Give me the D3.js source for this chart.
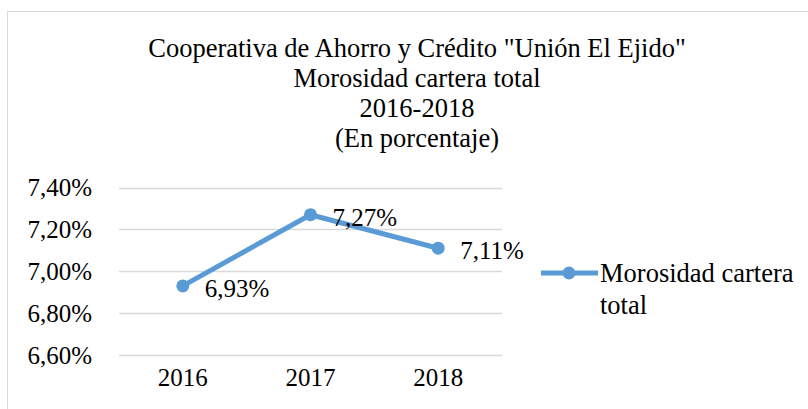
<!DOCTYPE html>
<html><head><meta charset="utf-8">
<script src="https://cdn.jsdelivr.net/npm/d3@7"></script>
<style>body{margin:0;background:#fff}svg{display:block}text{font-family:"Liberation Serif","Times New Roman",serif;fill:#000}</style>
</head><body>
<script>
const categories = ["2016","2017","2018"];
const values = [6.93, 7.27, 7.11];
const valueLabels = ["6,93%","7,27%","7,11%"];
const yTicks = [6.6, 6.8, 7.0, 7.2, 7.4];
const yTickLabels = ["6,60%","6,80%","7,00%","7,20%","7,40%"];
const titleLines = ['Cooperativa de Ahorro y Crédito "Unión El Ejido"', "Morosidad cartera total", "2016-2018", "(En porcentaje)"];
const seriesName = ["Morosidad cartera", "total"];

const W = 808, H = 409, color = "#5B9BD5";
const svg = d3.select("body").append("svg").attr("width", W).attr("height", H);
svg.append("rect").attr("x", 7.5).attr("y", 11.5).attr("width", W + 10).attr("height", H + 10)
  .attr("fill", "#fff").attr("stroke", "#d9d9d9").attr("stroke-width", 1);

svg.append("g").selectAll("text").data(titleLines).join("text")
  .attr("x", 417).attr("y", (d, i) => 57 + i * 30).attr("text-anchor", "middle")
  .attr("font-size", 26.5).text(d => d);

const x = d3.scaleBand().domain(categories).range([119, 502]);
const y = d3.scaleLinear().domain([6.6, 7.4]).range([355, 187.5]);

const grid = svg.append("g");
grid.selectAll("line").data(yTicks).join("line")
  .attr("x1", 119).attr("x2", 502).attr("y1", d => Math.round(y(d)) + 0.5).attr("y2", d => Math.round(y(d)) + 0.5)
  .attr("stroke", "#d9d9d9").attr("stroke-width", 1.3);

const yAxis = d3.axisLeft(y).tickValues(yTicks).tickFormat((d, i) => yTickLabels[i]).tickSize(0).tickPadding(0);
const ya = svg.append("g").attr("transform", "translate(92,0)").call(yAxis);
ya.select(".domain").remove();
ya.selectAll("text").attr("font-size", 25).attr("font-family", "Liberation Serif").attr("fill", "#000").attr("dy", "0.33em");

const xAxis = d3.axisBottom(x).tickSize(0).tickPadding(0);
const xa = svg.append("g").attr("transform", "translate(0,368)").call(xAxis);
xa.select(".domain").remove();
xa.selectAll("text").attr("font-size", 25).attr("font-family", "Liberation Serif").attr("fill", "#000").attr("dy", "0.71em");

const pts = categories.map((c, i) => [x(c) + x.bandwidth() / 2, y(values[i])]);
svg.append("path").attr("d", d3.line()(pts)).attr("fill", "none")
  .attr("stroke", color).attr("stroke-width", 5).attr("stroke-linejoin", "round");
svg.append("g").selectAll("circle").data(pts).join("circle")
  .attr("cx", d => d[0]).attr("cy", d => d[1]).attr("r", 6.5).attr("fill", color);

svg.append("g").selectAll("text").data(pts).join("text")
  .attr("x", d => d[0] + 22).attr("y", d => d[1] + 3).attr("dy", "0.33em")
  .attr("font-size", 25).text((d, i) => valueLabels[i]);

const lg = svg.append("g");
lg.append("line").attr("x1", 541).attr("x2", 598).attr("y1", 273).attr("y2", 273)
  .attr("stroke", color).attr("stroke-width", 5);
lg.append("circle").attr("cx", 569).attr("cy", 273).attr("r", 6.5).attr("fill", color);
lg.selectAll("text").data(seriesName).join("text")
  .attr("x", 600).attr("y", (d, i) => 273 + i * 32).attr("dy", "0.33em")
  .attr("font-size", 26.5).text(d => d);
</script>
</body></html>
